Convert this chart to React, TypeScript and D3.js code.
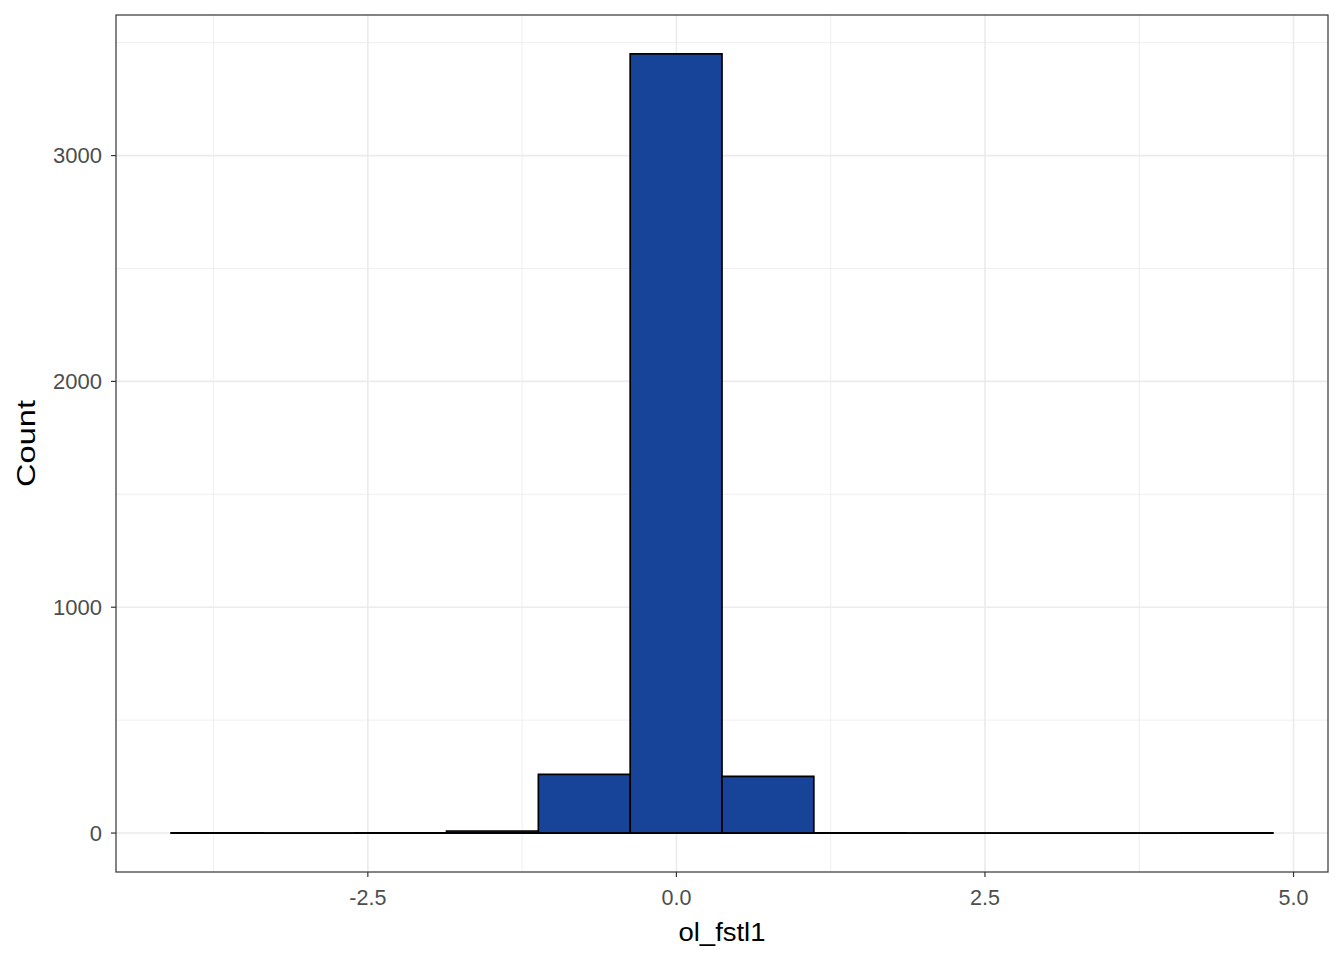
import React from "react";
import * as d3 from "d3";

const binStart = -4.094;
const binWidth = 0.7439;
const counts = [1, 0, 1, 9, 260, 3450, 251, 1, 0, 0, 0, 1];
const xTicks = [-2.5, 0, 2.5, 5.0];
const xMinor = [-3.75, -1.25, 1.25, 3.75];
const yTicks = [0, 1000, 2000, 3000];
const yMinor = [500, 1500, 2500, 3500];
const xLabel = "ol_fstl1";
const yLabel = "Count";

const W = 1344;
const H = 960;
const L = 116, R = 1328, T = 15, B = 872;

export default function App() {
  const bins = counts.map((c, i) => ({ x0: binStart + i * binWidth, x1: binStart + (i + 1) * binWidth, c }));
  const xMinD = binStart;
  const xMaxD = binStart + counts.length * binWidth;
  const xPad = (xMaxD - xMinD) * 0.05;
  const yMax = d3.max(counts) as number;
  const x = d3.scaleLinear().domain([xMinD - xPad, xMaxD + xPad]).range([L, R]);
  const y = d3.scaleLinear().domain([-yMax * 0.05, yMax * 1.05]).range([B, T]);

  const barPath = (b: { x0: number; x1: number; c: number }) => {
    const p = d3.path();
    p.moveTo(x(b.x0), y(0));
    p.lineTo(x(b.x0), y(b.c));
    p.lineTo(x(b.x1), y(b.c));
    p.lineTo(x(b.x1), y(0));
    p.closePath();
    return p.toString();
  };

  return (
    <svg width={W} height={H} style={{ position: "absolute", left: 0, top: 0, background: "#fff" }}
      fontFamily="'Liberation Sans', Arial, sans-serif">
      <rect x={0} y={0} width={W} height={H} fill="#fff" />
      <rect x={L} y={T} width={R - L} height={B - T} fill="#fff" />
      {xMinor.map((v) => (
        <line key={"xm" + v} x1={x(v)} x2={x(v)} y1={T} y2={B} stroke="#EBEBEB" strokeWidth={0.8} />
      ))}
      {yMinor.map((v) => (
        <line key={"ym" + v} x1={L} x2={R} y1={y(v)} y2={y(v)} stroke="#EBEBEB" strokeWidth={0.8} />
      ))}
      {xTicks.map((v) => (
        <line key={"xg" + v} x1={x(v)} x2={x(v)} y1={T} y2={B} stroke="#EBEBEB" strokeWidth={1.6} />
      ))}
      {yTicks.map((v) => (
        <line key={"yg" + v} x1={L} x2={R} y1={y(v)} y2={y(v)} stroke="#EBEBEB" strokeWidth={1.6} />
      ))}
      {bins.map((b, i) => (
        <path key={i} d={barPath(b)} fill="#174399" stroke="#000" strokeWidth={1.7} strokeLinejoin="miter" />
      ))}
      <line x1={x(binStart)} x2={x(xMaxD)} y1={y(0)} y2={y(0)} stroke="#000" strokeWidth={1.8} />
      <rect x={L} y={T} width={R - L} height={B - T} fill="none" stroke="#333333" strokeWidth={1.2} />
      {xTicks.map((v) => (
        <g key={"xt" + v}>
          <line x1={x(v)} x2={x(v)} y1={B} y2={B + 5} stroke="#333333" strokeWidth={1.2} />
          <text x={x(v)} y={B + 33} textAnchor="middle" fontSize={21.5} fill="#4D4D4D">{d3.format(".1f")(v).replace("\u2212", "-")}</text>
        </g>
      ))}
      {yTicks.map((v) => (
        <g key={"yt" + v}>
          <line x1={L - 5} x2={L} y1={y(v)} y2={y(v)} stroke="#333333" strokeWidth={1.2} />
          <text x={L - 14} y={y(v) + 7.5} textAnchor="end" fontSize={22} fill="#4D4D4D">{String(v)}</text>
        </g>
      ))}
      <text x={(L + R) / 2} y={940.5} textAnchor="middle" fontSize={25} fill="#000"
        textLength={87} lengthAdjust="spacingAndGlyphs">{xLabel}</text>
      <text transform={`translate(35,${(T + B) / 2}) rotate(-90)`} textAnchor="middle" fontSize={25} fill="#000"
        textLength={87} lengthAdjust="spacingAndGlyphs">{yLabel}</text>
    </svg>
  );
}
